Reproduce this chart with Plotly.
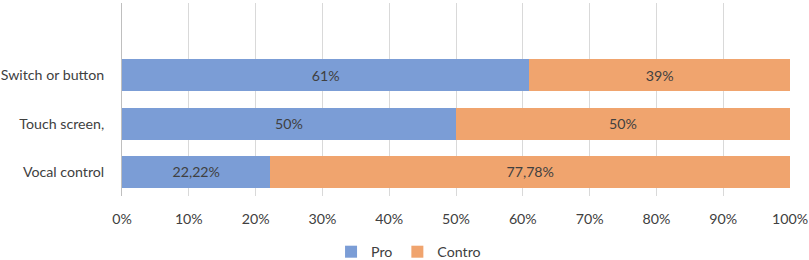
import plotly.graph_objects as go

categories = ["Vocal control", "Touch screen,", "Switch or button"]
pro = [22.22, 50, 61]
contro = [77.78, 50, 39]
pro_labels = ["22,22%", "50%", "61%"]
contro_labels = ["77,78%", "50%", "39%"]
tick_vals = [0, 10, 20, 30, 40, 50, 60, 70, 80, 90, 100]
tick_text = ["0%", "10%", "20%", "30%", "40%", "50%", "60%", "70%", "80%", "90%", "100%"]

font = "Lato, 'Open Sans', sans-serif"
txt = "#404040"
fs = 14.2

fig = go.Figure()
fig.add_trace(go.Bar(y=categories, x=pro, name="Pro", orientation="h",
                     marker=dict(color="#7B9DD6", line=dict(width=0)),
                     text=pro_labels, textposition="inside", insidetextanchor="middle",
                     textfont=dict(color=txt, size=fs, family=font), hoverinfo="skip"))
fig.add_trace(go.Bar(y=categories, x=contro, name="Contro", orientation="h",
                     marker=dict(color="#F0A46E", line=dict(width=0)),
                     text=contro_labels, textposition="inside", insidetextanchor="middle",
                     textfont=dict(color=txt, size=fs, family=font), hoverinfo="skip"))

fig.update_layout(
    barmode="stack", bargap=0.34,
    width=809, height=260,
    margin=dict(l=122, r=19, t=3, b=64, autoexpand=False),
    paper_bgcolor="white", plot_bgcolor="white",
    font=dict(family=font, color=txt, size=fs),
    uniformtext=dict(mode="show", minsize=fs),
    legend=dict(orientation="h", xref="container", x=0.505, xanchor="center",
                yref="paper", y=-0.29, yanchor="middle",
                font=dict(size=fs, color=txt), itemwidth=30, traceorder="normal",
                tracegroupgap=0),
    showlegend=True,
)
fig.update_xaxes(range=[0, 100], tickvals=tick_vals, ticktext=tick_text,
                 showgrid=True, gridcolor="#D9D9D9", gridwidth=1,
                 zeroline=False, showline=False, ticks="", automargin=False,
                 ticklabelstandoff=13,
                 tickfont=dict(size=fs, color=txt), fixedrange=True)
fig.update_yaxes(type="category", categoryorder="array", categoryarray=categories,
                 range=[-0.5, 3.5], showgrid=False, zeroline=False, automargin=False,
                 showline=True, linecolor="#BFBFBF", linewidth=1,
                 ticks="", ticklabelstandoff=14,
                 tickfont=dict(size=fs, color=txt), fixedrange=True)

fig.write_html("out.html", config={"displayModeBar": False},
               post_script="document.body.style.margin='0';document.body.style.padding='0';")
